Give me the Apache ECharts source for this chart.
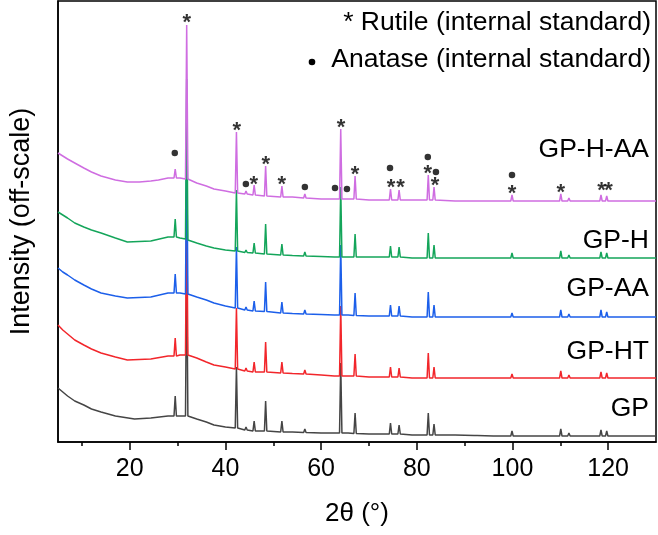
<!DOCTYPE html>
<html>
<head>
<meta charset="utf-8">
<script src="https://cdn.jsdelivr.net/npm/echarts@6/dist/echarts.min.js"></script>
<style>
html,body{margin:0;padding:0;background:#fff;}
#chart{width:658px;height:535px;}
</style>
</head>
<body>
<div id="chart"></div>
<script>
// ---- data (2θ in degrees, intensity in arbitrary off-scale units, offsets included) ----
const seriesNames = ['GP', 'GP-HT', 'GP-AA', 'GP-H', 'GP-H-AA'];
const seriesColors = ['#454545', '#f2262b', '#1c5fea', '#14a55a', '#cf6de1'];

const gpData = [
  [5,54],[6,50],[7,46],[8.5,41],[10.4,37],[12,33],[14,30],[17,26],[21,23],[24.4,24],[28,26],
  [29.25,26],[29.5,46],[29.75,26],[30.5,26],
  [31.65,26],[31.9,186],[32.15,26],
  [34,23],[36,20],[37.6,17],[40,15],
  [42.05,14],[42.3,75],[42.55,14],
  [44.05,12],[44.3,15],[44.55,12],
  [45.75,11],[46,21],[46.25,11],
  [48.15,11],[48.4,41],[48.65,11],
  [51.55,10],[51.8,21],[52.05,10],
  [54,10],
  [56.35,9.5],[56.6,13],[56.85,9.5],
  [60,9],
  [62.75,9],[63,11],[63.25,9],
  [63.85,9],[64.1,79],[64.35,9],
  [65.15,9],[65.4,11],[65.65,9],
  [66.85,8.5],[67.1,29],[67.35,8.5],
  [70,8],
  [74.25,8],[74.5,19],[74.75,8],
  [76.05,8],[76.3,17],[76.55,8],
  [79,7],
  [82.15,7],[82.4,29],[82.65,7],
  [83.35,7],[83.6,18],[83.85,7],
  [88,7],
  [92.0,6.5],[92.3,8.5],[92.6,6.5],
  [96,6],
  [99.65,6],[99.9,11],[100.15,6],
  [102.55,6],[102.8,8],[103.05,6],
  [106,6],
  [109.85,6],[110.1,13],[110.35,6],
  [111.55,6],[111.8,9],[112.05,6],
  [115,6],
  [118.25,6],[118.5,12],[118.75,6],
  [119.45,6],[119.7,11],[119.95,6],
  [121.35,6],[121.6,8],[121.85,6],
  [125,6],[130,6]
];

const gphtData = [
  [5,117],[6,112],[7,108],[8.5,102],[10.4,97],[12,93],[14,89],[17,85],[19.5,82],[24.4,83],[28,86],
  [29.25,86],[29.5,104],[29.75,86],[30.5,87],
  [31.65,87],[31.9,247],[32.15,87],
  [34,84],[36,80],[37.6,77],[40,75],
  [42.05,73],[42.3,134],[42.55,73],
  [44.05,71],[44.3,74],[44.55,71],
  [45.75,70],[46,80],[46.25,70],
  [48.15,70],[48.4,100],[48.65,70],
  [51.55,69],[51.8,80],[52.05,69],
  [54,68.5],
  [56.35,68],[56.6,72],[56.85,68],
  [60,67],
  [62.75,66],[63,68],[63.25,66],
  [63.85,66],[64.1,136],[64.35,66],
  [65.15,66],[65.4,68],[65.65,66],
  [66.85,66],[67.1,88],[67.35,66],
  [70,65],
  [74.25,65],[74.5,75],[74.75,65],
  [76.05,65],[76.3,74],[76.55,65],
  [79,64],
  [82.15,64],[82.4,89],[82.65,64],
  [83.35,64],[83.6,75],[83.85,64],
  [88,64],
  [92.0,64],[92.3,66],[92.6,64],
  [96,64],
  [99.65,64],[99.9,68],[100.15,64],
  [102.55,64],[102.8,66],[103.05,64],
  [106,64],
  [109.85,64],[110.1,71],[110.35,64],
  [111.55,64],[111.8,67],[112.05,64],
  [115,64],
  [118.25,64],[118.5,70],[118.75,64],
  [119.45,64],[119.7,69],[119.95,64],
  [121.35,64],[121.6,66],[121.85,64],
  [125,64],[130,64]
];

const gpaaData = [
  [5,174],[6,170],[7,167],[8.5,162],[10.4,157],[12,153],[14,149],[17,146],[19.5,144],[24.4,145],[28,149],
  [29.25,149],[29.5,168],[29.75,149],[30.5,149],
  [31.65,148],[31.9,308],[32.15,148],
  [34,145],[36,142],[37.6,139],[40,136],
  [42.05,134],[42.3,195],[42.55,134],
  [44.05,132],[44.3,135],[44.55,132],
  [45.75,131],[46,141],[46.25,131],
  [48.15,130.5],[48.4,160],[48.65,130.5],
  [51.55,129],[51.8,140],[52.05,129],
  [54,128.5],
  [56.35,128],[56.6,132],[56.85,128],
  [60,127.5],
  [62.75,127],[63,129],[63.25,127],
  [63.85,127],[64.1,197],[64.35,127],
  [65.15,127],[65.4,129],[65.65,127],
  [66.85,126.5],[67.1,149],[67.35,126.5],
  [70,126],
  [74.25,126],[74.5,137],[74.75,126],
  [76.05,126],[76.3,136],[76.55,126],
  [79,125],
  [82.15,125],[82.4,150],[82.65,125],
  [83.35,125],[83.6,137],[83.85,125],
  [88,125],
  [92.0,125],[92.3,127],[92.6,125],
  [96,125],
  [99.65,125],[99.9,129],[100.15,125],
  [102.55,125],[102.8,127],[103.05,125],
  [106,125],
  [109.85,125],[110.1,132],[110.35,125],
  [111.55,125],[111.8,128],[112.05,125],
  [115,125],
  [118.25,125],[118.5,132],[118.75,125],
  [119.45,125],[119.7,130],[119.95,125],
  [121.35,125],[121.6,127],[121.85,125],
  [125,125],[130,125]
];

const gphData = [
  [5,230],[6,227],[7,224],[8.5,219],[10.4,215],[12,212],[14,209],[17,204],[19.5,200],[24.4,201],[28,205],
  [29.25,205],[29.5,223],[29.75,205],[30.5,204],
  [31.65,203],[31.9,363],[32.15,202],
  [34,199],[36,196],[37.6,194],[40,192],
  [42.05,191],[42.3,252],[42.55,191],
  [44.05,189.5],[44.3,192],[44.55,189.5],
  [45.75,189],[46,199],[46.25,189],
  [48.15,188],[48.4,218],[48.65,188],
  [51.55,187],[51.8,198],[52.05,187],
  [54,186.5],
  [56.35,186],[56.6,190],[56.85,186],
  [60,185.5],
  [62.75,185],[63,187],[63.25,185],
  [63.85,185],[64.1,255],[64.35,185],
  [65.15,185],[65.4,187],[65.65,185],
  [66.85,185],[67.1,208],[67.35,185],
  [70,185],
  [74.25,185],[74.5,196],[74.75,185],
  [76.05,185],[76.3,195],[76.55,185],
  [79,184],
  [82.15,184],[82.4,209],[82.65,184],
  [83.35,184],[83.6,197],[83.85,184],
  [88,184],
  [92.0,184],[92.3,186],[92.6,184],
  [96,184],
  [99.65,184],[99.9,189],[100.15,184],
  [102.55,184],[102.8,186],[103.05,184],
  [106,184],
  [109.85,184],[110.1,191],[110.35,184],
  [111.55,184],[111.8,187],[112.05,184],
  [115,184],
  [118.25,184],[118.5,190],[118.75,184],
  [119.45,184],[119.7,189],[119.95,184],
  [121.35,184],[121.6,186],[121.85,184],
  [125,184],[130,184]
];

const gphaaData = [
  [5,289],[6,286],[7,283],[8.5,279],[10.4,274],[12,270],[14,266],[17,262],[19.5,260],[22,260],[24.4,261],[26,262],[28,264],
  [29.25,264],[29.5,273],[29.75,264],[30.5,264],
  [31.65,263],[31.9,417],[32.15,263],
  [34,259],[36,256],[37.6,253],[40,251],
  [42.05,249],[42.3,310],[42.55,249],
  [44.05,248],[44.3,251],[44.55,248],
  [45.75,247],[46,257],[46.25,247],
  [48.15,246],[48.4,276],[48.65,246],
  [51.55,245],[51.8,256],[52.05,245],
  [54,245],
  [56.35,244],[56.6,248],[56.85,244],
  [60,243],
  [62.75,243],[63,245],[63.25,243],
  [63.85,243],[64.1,313],[64.35,243],
  [65.15,243],[65.4,245],[65.65,243],
  [66.85,243],[67.1,266],[67.35,243],
  [70,242],
  [74.25,242],[74.5,253],[74.75,242],
  [76.05,242],[76.3,252],[76.55,242],
  [79,242],
  [82.15,242],[82.4,267],[82.65,242],
  [83.35,242],[83.6,255],[83.85,242],
  [88,241],
  [92.0,241],[92.3,243],[92.6,241],
  [96,241],
  [99.65,241],[99.9,247],[100.15,241],
  [102.55,241],[102.8,243],[103.05,241],
  [106,241],
  [109.85,241],[110.1,248],[110.35,241],
  [111.55,241],[111.8,244],[112.05,241],
  [115,241],
  [118.25,241],[118.5,247],[118.75,241],
  [119.45,241],[119.7,246],[119.95,241],
  [121.35,241],[121.6,243],[121.85,241],
  [125,241],[130,241]
];

// peak markers above GP-H-AA: rutile (*) and anatase (•)
const rutileMarks = [
  [31.92,425],[42.38,317],[45.94,263],[48.45,283],[51.8,263],[64.14,320],[67.07,273],
  [74.6,260],[76.6,260],[82.3,274],[83.8,262],[99.9,254],[110.1,255],[118.6,257],[120.1,257]
];
const anataseMarks = [
  [29.41,289],[44.27,258],[56.6,255],[62.9,254],[65.4,253],[74.4,274],[82.3,285],[84.0,270],[99.9,267]
];

const majorTicks = [20, 40, 60, 80, 100, 120];
const minorTicks = [10, 30, 50, 70, 90, 110];
const xRange = [5, 130];
const yRange = [0, 441];

const legendTexts = ['* Rutile (internal standard)', 'Anatase (internal standard)'];

// ---- chart ----
const FONT = '"Liberation Sans", Arial, sans-serif';
const allData = [gpData, gphtData, gpaaData, gphData, gphaaData];
const chart = echarts.init(document.getElementById('chart'), null, {renderer: 'canvas'});

const lineSeries = allData.map((d, i) => ({
  name: seriesNames[i],
  type: 'line',
  data: d,
  showSymbol: false,
  symbol: 'none',
  xAxisIndex: 0,
  yAxisIndex: 0,
  lineStyle: {color: seriesColors[i], width: 1.5},
  itemStyle: {color: seriesColors[i]},
  emphasis: {disabled: true},
  animation: false
}));

const labelY = [409, 352, 289, 241, 150];

const option = {
  animation: false,
  backgroundColor: '#ffffff',
  grid: {left: 57, right: 2, top: 1, bottom: 93, show: true, borderColor: '#000', borderWidth: 1.5, backgroundColor: 'transparent'},
  xAxis: [
    {
      type: 'value', min: xRange[0], max: xRange[1], position: 'bottom',
      name: '2θ (°)', nameLocation: 'middle', nameGap: 59,
      nameTextStyle: {fontSize: 26, fontFamily: FONT, color: '#000'},
      axisLine: {show: true, lineStyle: {color: '#000', width: 1.5}},
      axisTick: {show: true, inside: false, length: 8, lineStyle: {color: '#000', width: 1.5}, customValues: majorTicks},
      axisLabel: {show: true, fontSize: 25, fontFamily: FONT, color: '#000', margin: 15, customValues: majorTicks},
      splitLine: {show: false}
    },
    {
      type: 'value', min: xRange[0], max: xRange[1], position: 'bottom',
      axisLine: {show: false},
      axisTick: {show: true, inside: false, length: 4, lineStyle: {color: '#000', width: 1.5}, customValues: minorTicks},
      axisLabel: {show: false},
      splitLine: {show: false}
    }
  ],
  yAxis: {
    type: 'value', min: yRange[0], max: yRange[1],
    name: 'Intensity (off-scale)', nameLocation: 'middle', nameGap: 23,
    nameTextStyle: {fontSize: 27, fontFamily: FONT, color: '#000'},
    axisLine: {show: true, lineStyle: {color: '#000', width: 1.5}},
    axisTick: {show: false},
    axisLabel: {show: false},
    splitLine: {show: false}
  },
  series: lineSeries.concat([
    {
      type: 'scatter', data: rutileMarks, symbol: 'circle', symbolSize: 1,
      itemStyle: {color: 'rgba(0,0,0,0)'},
      label: {show: true, position: 'inside', formatter: '*', fontSize: 22, fontWeight: 'bold', fontFamily: FONT, color: '#000', offset: [0, 6]},
      emphasis: {disabled: true}, z: 5
    },
    {
      type: 'scatter', data: anataseMarks, symbol: 'circle', symbolSize: 6.5,
      itemStyle: {color: '#000'}, emphasis: {disabled: true}, z: 5
    }
  ]),
  graphic: [
    {type: 'text', x: 651, y: 23, style: {text: legendTexts[0], align: 'right', verticalAlign: 'middle', fontSize: 26.5, fontFamily: FONT, fill: '#000'}},
    {type: 'circle', shape: {cx: 312, cy: 62, r: 3.3}, style: {fill: '#000'}},
    {type: 'text', x: 651, y: 60, style: {text: legendTexts[1], align: 'right', verticalAlign: 'middle', fontSize: 26.5, fontFamily: FONT, fill: '#000'}}
  ].concat(seriesNames.map((n, i) => ({
    type: 'text', x: 649, y: labelY[i],
    style: {text: n, align: 'right', verticalAlign: 'middle', fontSize: 26.5, fontFamily: FONT, fill: '#000'}
  })))
};

chart.setOption(option);
</script>
</body>
</html>
